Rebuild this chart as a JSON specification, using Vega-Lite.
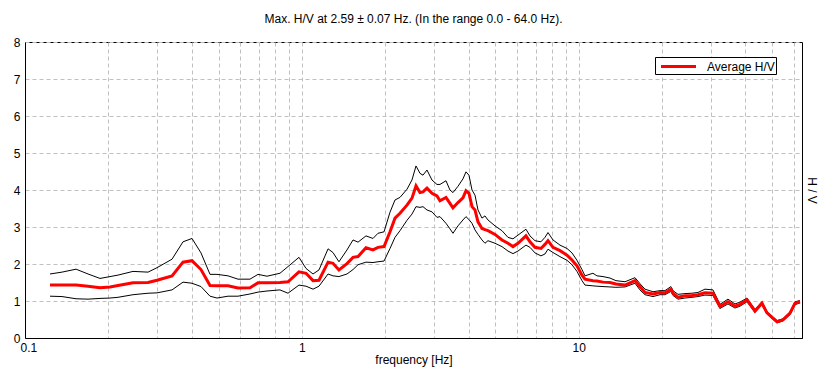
{
  "$schema": "https://vega.github.io/schema/vega-lite/v6.json",
  "autosize": "none",
  "width": 777,
  "height": 296,
  "padding": {"left": 25, "top": 42, "right": 24, "bottom": 43},
  "background": "white",
  "config": {
    "font": "Liberation Sans",
    "view": {"stroke": "black", "strokeWidth": 1},
    "axis": {"labelFont": "Liberation Sans", "titleFont": "Liberation Sans", "labelColor": "black", "titleColor": "black", "labelFontSize": 12, "titleFontSize": 12, "titleFontWeight": "normal", "domainColor": "black", "ticks": false, "gridColor": "#c0c0c0", "gridDash": [4, 3], "gridOpacity": 1, "labelOverlap": false}
  },
  "title": {"text": "Max. H/V at 2.59 ± 0.07 Hz. (In the range 0.0 - 64.0 Hz).", "fontSize": 12, "fontWeight": "normal", "font": "Liberation Sans", "color": "black", "offset": 10, "anchor": "middle"},
  "data": {"values": [
    {"f": 0.1231, "avg": 1.43, "hi": 1.73, "lo": 1.13},
    {"f": 0.136, "avg": 1.43, "hi": 1.78, "lo": 1.12},
    {"f": 0.1529, "avg": 1.43, "hi": 1.86, "lo": 1.06},
    {"f": 0.1689, "avg": 1.40, "hi": 1.73, "lo": 1.05},
    {"f": 0.1866, "avg": 1.36, "hi": 1.61, "lo": 1.07},
    {"f": 0.2028, "avg": 1.38, "hi": 1.66, "lo": 1.08},
    {"f": 0.2167, "avg": 1.42, "hi": 1.70, "lo": 1.10},
    {"f": 0.2455, "avg": 1.49, "hi": 1.80, "lo": 1.17},
    {"f": 0.2782, "avg": 1.50, "hi": 1.78, "lo": 1.21},
    {"f": 0.2997, "avg": 1.56, "hi": 1.90, "lo": 1.22},
    {"f": 0.3396, "avg": 1.68, "hi": 2.13, "lo": 1.30},
    {"f": 0.3721, "avg": 2.05, "hi": 2.60, "lo": 1.51},
    {"f": 0.4010, "avg": 2.09, "hi": 2.69, "lo": 1.48},
    {"f": 0.4321, "avg": 1.85, "hi": 2.30, "lo": 1.39},
    {"f": 0.4658, "avg": 1.42, "hi": 1.72, "lo": 1.13},
    {"f": 0.4936, "avg": 1.41, "hi": 1.72, "lo": 1.08},
    {"f": 0.5409, "avg": 1.41, "hi": 1.68, "lo": 1.13},
    {"f": 0.5878, "avg": 1.35, "hi": 1.59, "lo": 1.13},
    {"f": 0.6495, "avg": 1.36, "hi": 1.59, "lo": 1.19},
    {"f": 0.6942, "avg": 1.49, "hi": 1.72, "lo": 1.24},
    {"f": 0.7482, "avg": 1.49, "hi": 1.67, "lo": 1.27},
    {"f": 0.8334, "avg": 1.50, "hi": 1.75, "lo": 1.30},
    {"f": 0.8909, "avg": 1.52, "hi": 1.93, "lo": 1.21},
    {"f": 0.9761, "avg": 1.79, "hi": 2.18, "lo": 1.43},
    {"f": 1.035, "avg": 1.75, "hi": 1.88, "lo": 1.40},
    {"f": 1.097, "avg": 1.55, "hi": 1.73, "lo": 1.32},
    {"f": 1.153, "avg": 1.56, "hi": 1.84, "lo": 1.40},
    {"f": 1.243, "avg": 2.05, "hi": 2.41, "lo": 1.73},
    {"f": 1.295, "avg": 2.02, "hi": 2.31, "lo": 1.68},
    {"f": 1.361, "avg": 1.84, "hi": 2.06, "lo": 1.66},
    {"f": 1.455, "avg": 2.01, "hi": 2.38, "lo": 1.73},
    {"f": 1.530, "avg": 2.18, "hi": 2.65, "lo": 1.85},
    {"f": 1.595, "avg": 2.20, "hi": 2.59, "lo": 1.98},
    {"f": 1.704, "avg": 2.44, "hi": 2.76, "lo": 2.05},
    {"f": 1.806, "avg": 2.38, "hi": 2.69, "lo": 2.04},
    {"f": 1.883, "avg": 2.45, "hi": 2.83, "lo": 2.06},
    {"f": 1.980, "avg": 2.47, "hi": 2.87, "lo": 2.08},
    {"f": 2.081, "avg": 2.87, "hi": 3.40, "lo": 2.42},
    {"f": 2.169, "avg": 3.24, "hi": 3.73, "lo": 2.72},
    {"f": 2.261, "avg": 3.37, "hi": 3.80, "lo": 2.90},
    {"f": 2.396, "avg": 3.59, "hi": 4.02, "lo": 3.18},
    {"f": 2.498, "avg": 3.78, "hi": 4.27, "lo": 3.35},
    {"f": 2.583, "avg": 4.11, "hi": 4.65, "lo": 3.55},
    {"f": 2.670, "avg": 3.93, "hi": 4.45, "lo": 3.53},
    {"f": 2.737, "avg": 3.95, "hi": 4.40, "lo": 3.55},
    {"f": 2.830, "avg": 4.05, "hi": 4.54, "lo": 3.46},
    {"f": 2.950, "avg": 3.91, "hi": 4.27, "lo": 3.41},
    {"f": 3.075, "avg": 3.84, "hi": 4.15, "lo": 3.26},
    {"f": 3.153, "avg": 3.71, "hi": 4.15, "lo": 3.28},
    {"f": 3.314, "avg": 3.80, "hi": 4.25, "lo": 3.10},
    {"f": 3.426, "avg": 3.64, "hi": 4.00, "lo": 2.95},
    {"f": 3.513, "avg": 3.52, "hi": 3.93, "lo": 2.83},
    {"f": 3.662, "avg": 3.66, "hi": 4.10, "lo": 3.03},
    {"f": 3.817, "avg": 3.79, "hi": 4.30, "lo": 3.19},
    {"f": 3.914, "avg": 3.98, "hi": 4.49, "lo": 3.28},
    {"f": 4.013, "avg": 3.91, "hi": 4.40, "lo": 3.20},
    {"f": 4.115, "avg": 3.55, "hi": 4.00, "lo": 3.10},
    {"f": 4.219, "avg": 3.46, "hi": 3.86, "lo": 2.92},
    {"f": 4.325, "avg": 3.14, "hi": 3.46, "lo": 2.80},
    {"f": 4.471, "avg": 2.96, "hi": 3.24, "lo": 2.65},
    {"f": 4.584, "avg": 2.93, "hi": 3.30, "lo": 2.56},
    {"f": 4.699, "avg": 2.90, "hi": 3.19, "lo": 2.63},
    {"f": 4.982, "avg": 2.80, "hi": 3.03, "lo": 2.56},
    {"f": 5.280, "avg": 2.65, "hi": 2.90, "lo": 2.47},
    {"f": 5.550, "avg": 2.56, "hi": 2.72, "lo": 2.35},
    {"f": 5.786, "avg": 2.47, "hi": 2.68, "lo": 2.28},
    {"f": 6.031, "avg": 2.56, "hi": 2.78, "lo": 2.35},
    {"f": 6.445, "avg": 2.76, "hi": 2.94, "lo": 2.51},
    {"f": 6.664, "avg": 2.60, "hi": 2.76, "lo": 2.45},
    {"f": 6.946, "avg": 2.45, "hi": 2.63, "lo": 2.30},
    {"f": 7.302, "avg": 2.42, "hi": 2.60, "lo": 2.22},
    {"f": 7.549, "avg": 2.53, "hi": 2.72, "lo": 2.27},
    {"f": 7.741, "avg": 2.63, "hi": 2.85, "lo": 2.40},
    {"f": 8.069, "avg": 2.45, "hi": 2.65, "lo": 2.31},
    {"f": 8.553, "avg": 2.36, "hi": 2.51, "lo": 2.20},
    {"f": 9.066, "avg": 2.24, "hi": 2.42, "lo": 2.10},
    {"f": 9.450, "avg": 2.11, "hi": 2.30, "lo": 1.98},
    {"f": 9.851, "avg": 1.95, "hi": 2.10, "lo": 1.80},
    {"f": 10.27, "avg": 1.70, "hi": 1.85, "lo": 1.55},
    {"f": 10.53, "avg": 1.59, "hi": 1.68, "lo": 1.43},
    {"f": 11.25, "avg": 1.55, "hi": 1.75, "lo": 1.41},
    {"f": 11.63, "avg": 1.54, "hi": 1.68, "lo": 1.40},
    {"f": 12.23, "avg": 1.51, "hi": 1.66, "lo": 1.39},
    {"f": 12.96, "avg": 1.50, "hi": 1.62, "lo": 1.38},
    {"f": 13.62, "avg": 1.46, "hi": 1.55, "lo": 1.37},
    {"f": 14.69, "avg": 1.43, "hi": 1.52, "lo": 1.38},
    {"f": 15.96, "avg": 1.55, "hi": 1.63, "lo": 1.48},
    {"f": 16.63, "avg": 1.39, "hi": 1.47, "lo": 1.30},
    {"f": 17.34, "avg": 1.23, "hi": 1.32, "lo": 1.17},
    {"f": 18.54, "avg": 1.19, "hi": 1.25, "lo": 1.12},
    {"f": 19.65, "avg": 1.23, "hi": 1.28, "lo": 1.17},
    {"f": 20.48, "avg": 1.22, "hi": 1.28, "lo": 1.17},
    {"f": 21.53, "avg": 1.32, "hi": 1.39, "lo": 1.26},
    {"f": 21.89, "avg": 1.21, "hi": 1.28, "lo": 1.15},
    {"f": 22.82, "avg": 1.10, "hi": 1.18, "lo": 1.05},
    {"f": 24.18, "avg": 1.14, "hi": 1.20, "lo": 1.08},
    {"f": 25.63, "avg": 1.15, "hi": 1.21, "lo": 1.10},
    {"f": 26.94, "avg": 1.17, "hi": 1.23, "lo": 1.12},
    {"f": 28.56, "avg": 1.22, "hi": 1.32, "lo": 1.16},
    {"f": 30.52, "avg": 1.21, "hi": 1.30, "lo": 1.15},
    {"f": 32.36, "avg": 0.85, "hi": 0.91, "lo": 0.80},
    {"f": 34.58, "avg": 0.98, "hi": 1.05, "lo": 0.92},
    {"f": 36.66, "avg": 0.86, "hi": 0.92, "lo": 0.81},
    {"f": 38.22, "avg": 0.91, "hi": 0.97, "lo": 0.86},
    {"f": 40.50, "avg": 1.03, "hi": 1.08, "lo": 0.98},
    {"f": 43.28, "avg": 0.73, "hi": 0.77, "lo": 0.69},
    {"f": 45.87, "avg": 0.94, "hi": 0.98, "lo": 0.90},
    {"f": 47.83, "avg": 0.68, "hi": 0.71, "lo": 0.65},
    {"f": 51.98, "avg": 0.44, "hi": 0.47, "lo": 0.41},
    {"f": 54.64, "avg": 0.49, "hi": 0.52, "lo": 0.46},
    {"f": 57.92, "avg": 0.67, "hi": 0.70, "lo": 0.63},
    {"f": 60.38, "avg": 0.94, "hi": 0.98, "lo": 0.90},
    {"f": 62.95, "avg": 0.98, "hi": 1.01, "lo": 0.95}
  ]},
  "encoding": {
    "x": {"field": "f", "type": "quantitative",
      "scale": {"type": "log", "domain": [0.1, 64], "nice": false},
      "axis": {"title": "frequency [Hz]", "grid": true,
        "values": [0.1, 0.2, 0.3, 0.4, 0.5, 0.6, 0.7, 0.8, 0.9, 1, 2, 3, 4, 5, 6, 7, 8, 9, 10, 20, 30, 40, 50, 60],
        "labelExpr": "datum.value == 0.1 ? '0.1' : datum.value == 1 ? '1' : datum.value == 10 ? '10' : ''",
        "labelAlign": {"condition": {"test": "datum.value == 0.1", "value": "left"}, "value": "center"},
        "labelOffset": {"condition": {"test": "datum.value == 0.1", "value": -5}, "value": 0},
        "labelPadding": 4, "titlePadding": 1, "labelFlush": false}}
  },
  "layer": [
    {"mark": {"type": "line", "color": "black", "strokeWidth": 1},
     "encoding": {"y": {"field": "hi", "type": "quantitative",
        "scale": {"domain": [0, 8], "nice": false},
        "axis": {"title": null, "grid": true, "values": [0, 1, 2, 3, 4, 5, 6, 7, 8], "format": "d", "labelPadding": 5, "orient": "left"}}}},
    {"mark": {"type": "line", "color": "black", "strokeWidth": 1},
     "encoding": {"y": {"field": "lo", "type": "quantitative",
        "axis": {"title": "H / V", "orient": "right", "labels": false, "grid": false, "domain": false, "values": [0, 8], "titleAngle": 90, "titlePadding": 2}}}},
    {"mark": {"type": "line", "strokeWidth": 3},
     "encoding": {"y": {"field": "avg", "type": "quantitative", "axis": null},
       "color": {"datum": "Average H/V", "type": "nominal", "scale": {"range": ["#ff0000"]},
         "legend": {"title": null, "orient": "none", "legendX": 630, "legendY": 15, "symbolType": "M-2.5,0H2.5", "symbolStrokeWidth": 3, "symbolSize": 196, "labelFontSize": 12, "labelFont": "Liberation Sans", "labelColor": "black", "strokeColor": "black", "fillColor": "white", "padding": 1, "labelOffset": 20, "symbolOffset": 14}}}}
  ],
  "resolve": {"axis": {"y": "independent"}}
}
